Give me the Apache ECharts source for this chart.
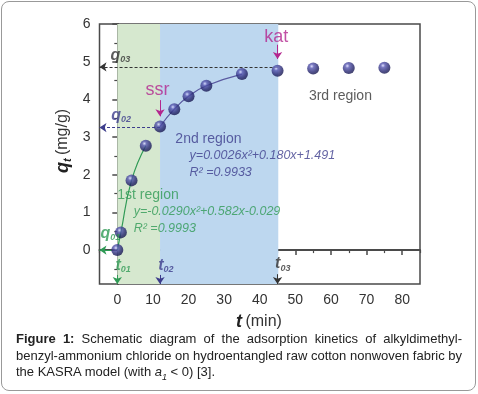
<!DOCTYPE html>
<html>
<head>
<meta charset="UTF-8">
<title>KASRA adsorption kinetics</title>
<script src="https://cdn.jsdelivr.net/npm/echarts@6/dist/echarts.min.js"></script>
<style>
	body { margin: 0; background: #fff; }
	#wrap { position: relative; width: 478px; height: 394px; }
	#frame { position: absolute; left: 1px; top: 1px; width: 473px; height: 388px; border: 1px solid #999; border-radius: 8px; }
	#graph { position: absolute; left: 0; top: 0; width: 478px; height: 394px; }
	#cap { position: absolute; left: 16px; top: 331px; width: 446px; font-family: "Liberation Sans", Arial, sans-serif; font-size: 13px; line-height: 16.5px; color: #222; }
	#cap .j { text-align: justify; text-align-last: justify; white-space: nowrap; }
</style>
</head>
<body>
<div id="wrap">
	<div id="graph"></div>
	<div id="frame"></div>
	<div id="cap">
		<div class="j"><b>Figure 1:</b> Schematic diagram of the adsorption kinetics of alkyldimethyl-</div>
		<div class="j">benzyl-ammonium chloride on hydroentangled raw cotton nonwoven fabric by</div>
		<div>the KASRA model (with <i>a</i><sub style="font-size:9px"><i>1</i></sub> &lt; 0) [3].</div>
	</div>
</div>
<script>
// measured points (t in min, qt in mg/g)
var times = [0, 1, 4, 8, 12, 16, 20, 25, 35, 45, 55, 65, 75];
var qt = [0, 0.47, 1.85, 2.77, 3.28, 3.74, 4.08, 4.36, 4.67, 4.76, 4.82, 4.83, 4.84];
// which points each fitted curve runs through
var fit1Points = [0, 3];   // first .. last index
var fit2Points = [4, 8];
// shaded regions on the t axis
var region1 = [0, 12];
var region2 = [12, 45.2];
// tick labels
var xTicks = [0, 10, 20, 30, 40, 50, 60, 70, 80];
var xMinor = [-5, 5, 15, 25, 35, 45, 55, 65, 75, 85];
var yTicks = [0, 1, 2, 3, 4, 5, 6];
var yMinor = [-0.5, 0.5, 1.5, 2.5, 3.5, 4.5, 5.5];
// characteristic values
var q01 = 0, q02 = 3.25, q03 = 4.86;
var t01 = 0, t02 = 12, t03 = 45;

var NAVY = '#3c3c8c', GREEN = '#2f9a55', MAG = '#b3268e', BLK = '#333';
var FONT = '"Liberation Sans", Arial, sans-serif';

function pts(r) {
	var out = [];
	for (var i = r[0]; i <= r[1]; i++) out.push([times[i], qt[i]]);
	return out;
}
var allPts = times.map(function (t, i) { return [t, qt[i]]; });

var sphere = {
	type: 'radial', x: 0.38, y: 0.32, r: 0.7,
	colorStops: [
		{ offset: 0, color: '#d8d8ff' },
		{ offset: 0.25, color: '#5656b0' },
		{ offset: 0.7, color: '#25256f' },
		{ offset: 1, color: '#14144a' }
	]
};

function subRich(color) {
	return {
		m: { fontFamily: FONT, fontSize: 16, fontWeight: 'bold', fontStyle: 'italic', color: color, lineHeight: 18 },
		s: { fontFamily: FONT, fontSize: 9, fontWeight: 'bold', fontStyle: 'italic', color: color, verticalAlign: 'bottom', lineHeight: 18, padding: [8, 0, 0, 0] }
	};
}
function symLabel(x, y, txt, color) {
	return { value: [x, y], label: { formatter: '{m|' + txt.charAt(0) + '}{s|' + txt.slice(1) + '}', rich: subRich(color), align: 'left' } };
}
function plainLabel(x, y, txt, color, size, italic, align) {
	return { value: [x, y], label: { formatter: txt, color: color, fontSize: size, fontStyle: italic ? 'italic' : 'normal', align: align || 'left', fontFamily: FONT } };
}

var labels = [
	symLabel(-1.9, 5.17, 'q03', BLK),
	symLabel(-1.7, 3.58, 'q02', NAVY),
	symLabel(-4.7, 0.45, 'q01', GREEN),
	symLabel(-0.5, -0.4, 't01', GREEN),
	symLabel(11.5, -0.4, 't02', NAVY),
	symLabel(44.3, -0.37, 't03', BLK),
	plainLabel(11.3, 4.24, 'ssr', MAG, 18, false, 'center'),
	plainLabel(44.6, 5.66, 'kat', MAG, 18, false, 'center'),
	plainLabel(16.3, 2.94, '2nd region', NAVY, 14),
	plainLabel(20.3, 2.52, 'y=0.0026x\u00b2+0.180x+1.491', NAVY, 12.5, true),
	plainLabel(20.3, 2.07, 'R\u00b2 =0.9933', NAVY, 12.5, true),
	plainLabel(0, 1.46, '1st region', GREEN, 14),
	plainLabel(4.6, 1.02, 'y=-0.0290x\u00b2+0.582x-0.029', GREEN, 12.5, true),
	plainLabel(4.6, 0.56, 'R\u00b2 =0.9993', GREEN, 12.5, true),
	plainLabel(53.8, 4.09, '3rd region', BLK, 14)
];

function arrow(from, to, color, type) {
	return [{ coord: from, lineStyle: { color: color, type: type || 'solid', width: 1 }, itemStyle: { color: color } }, { coord: to }];
}
var arrows = [
	arrow([t03, q03], [-5, q03], BLK, [3, 2]),
	arrow([t02, q02], [-5, q02], NAVY, [3, 2]),
	arrow([-1.6, q01], [-5, q01], GREEN),
	arrow([t01, -0.66], [t01, -0.9], GREEN),
	arrow([t02, -0.66], [t02, -0.9], NAVY),
	arrow([t03, -0.64], [t03, -0.9], BLK),
	arrow([t02, 3.98], [t02, 3.55], MAG),
	arrow([t03, 5.45], [t03, 5.07], MAG)
];

var tickLabel = { fontFamily: FONT, fontSize: 14, color: '#333' };
var axisLine = { show: true, lineStyle: { color: '#4a4a4a', width: 2 } };

var chart = echarts.init(document.getElementById('graph'), null, { renderer: 'canvas' });
chart.setOption({
	animation: false,
	backgroundColor: '#fff',
	grid: { left: 99.5, right: 58, top: 24, bottom: 110, show: true, borderColor: '#4a4a4a', borderWidth: 1.5 },
	xAxis: [{
		type: 'value', min: -5, max: 85,
		axisLine: axisLine,
		axisTick: { show: true, length: 5, customValues: xTicks, lineStyle: { color: '#4a4a4a', width: 1.5 } },
		axisLabel: Object.assign({ customValues: xTicks, margin: 9 }, tickLabel),
		splitLine: { show: false }
	}, {
		type: 'value', min: -5, max: 85, position: 'bottom',
		axisLine: { show: false },
		axisTick: { show: true, length: 3, customValues: xMinor, lineStyle: { color: '#4a4a4a', width: 1.2 } },
		axisLabel: { show: false }, splitLine: { show: false }
	}],
	yAxis: [{
		type: 'value', min: -0.9, max: 6,
		axisLine: axisLine,
		axisTick: { show: true, length: 5, customValues: yTicks, lineStyle: { color: '#4a4a4a', width: 1.5 } },
		axisLabel: Object.assign({ customValues: yTicks, margin: 9 }, tickLabel),
		splitLine: { show: false }
	}, {
		type: 'value', min: -0.9, max: 6, position: 'left',
		axisLine: { show: false },
		axisTick: { show: true, length: 3, customValues: yMinor, lineStyle: { color: '#4a4a4a', width: 1.2 } },
		axisLabel: { show: false }, splitLine: { show: false }
	}],
	graphic: [{
		type: 'text', x: 63, y: 141, rotation: Math.PI / 2,
		style: {
			text: '{q|q}{s|t} {u|(mg/g)}', align: 'center', verticalAlign: 'middle',
			rich: {
				q: { fontFamily: FONT, fontSize: 18, fontWeight: 'bold', fontStyle: 'italic', fill: '#222', lineHeight: 20 },
				s: { fontFamily: FONT, fontSize: 11, fontWeight: 'bold', fontStyle: 'italic', fill: '#222', verticalAlign: 'bottom', lineHeight: 20, padding: [9, 0, 0, 0] },
				u: { fontFamily: FONT, fontSize: 16, fill: '#333', lineHeight: 20 }
			}
		}
	}, {
		type: 'text', x: 259, y: 322,
		style: {
			text: '{t|t} {u|(min)}', align: 'center', verticalAlign: 'middle',
			rich: {
				t: { fontFamily: FONT, fontSize: 18, fontWeight: 'bold', fontStyle: 'italic', fill: '#222' },
				u: { fontFamily: FONT, fontSize: 16, fill: '#333' }
			}
		}
	}],
	series: [{
		name: 'regions', type: 'line', data: [], silent: true,
		markArea: {
			silent: true,
			data: [
				[{ xAxis: region1[0], itemStyle: { color: '#d6e8cf' } }, { xAxis: region1[1] }],
				[{ xAxis: region2[0], itemStyle: { color: '#bdd7ef' } }, { xAxis: region2[1] }]
			]
		}
	}, {
		name: 'fit 1', type: 'line', smooth: true, showSymbol: false, silent: true,
		data: pts(fit1Points), lineStyle: { color: GREEN, width: 1.2 }, z: 3
	}, {
		name: 'fit 2', type: 'line', smooth: true, showSymbol: false, silent: true,
		data: pts(fit2Points), lineStyle: { color: '#5a5aa0', width: 1.2 }, z: 3
	}, {
		name: 'guides', type: 'line', data: [], silent: true, z: 4,
		markLine: {
			silent: true, symbol: ['none', 'arrow'], symbolSize: 7,
			label: { show: false }, animation: false,
			data: arrows
		}
	}, {
		name: 'qt', type: 'scatter', data: allPts, symbolSize: 12, z: 5,
		itemStyle: { color: sphere }
	}, {
		name: 'notes', type: 'scatter', data: labels, symbolSize: 1, silent: true, z: 6,
		itemStyle: { color: 'rgba(0,0,0,0)' },
		label: { show: true, position: 'inside', verticalAlign: 'middle' }
	}]
});
</script>
</body>
</html>
